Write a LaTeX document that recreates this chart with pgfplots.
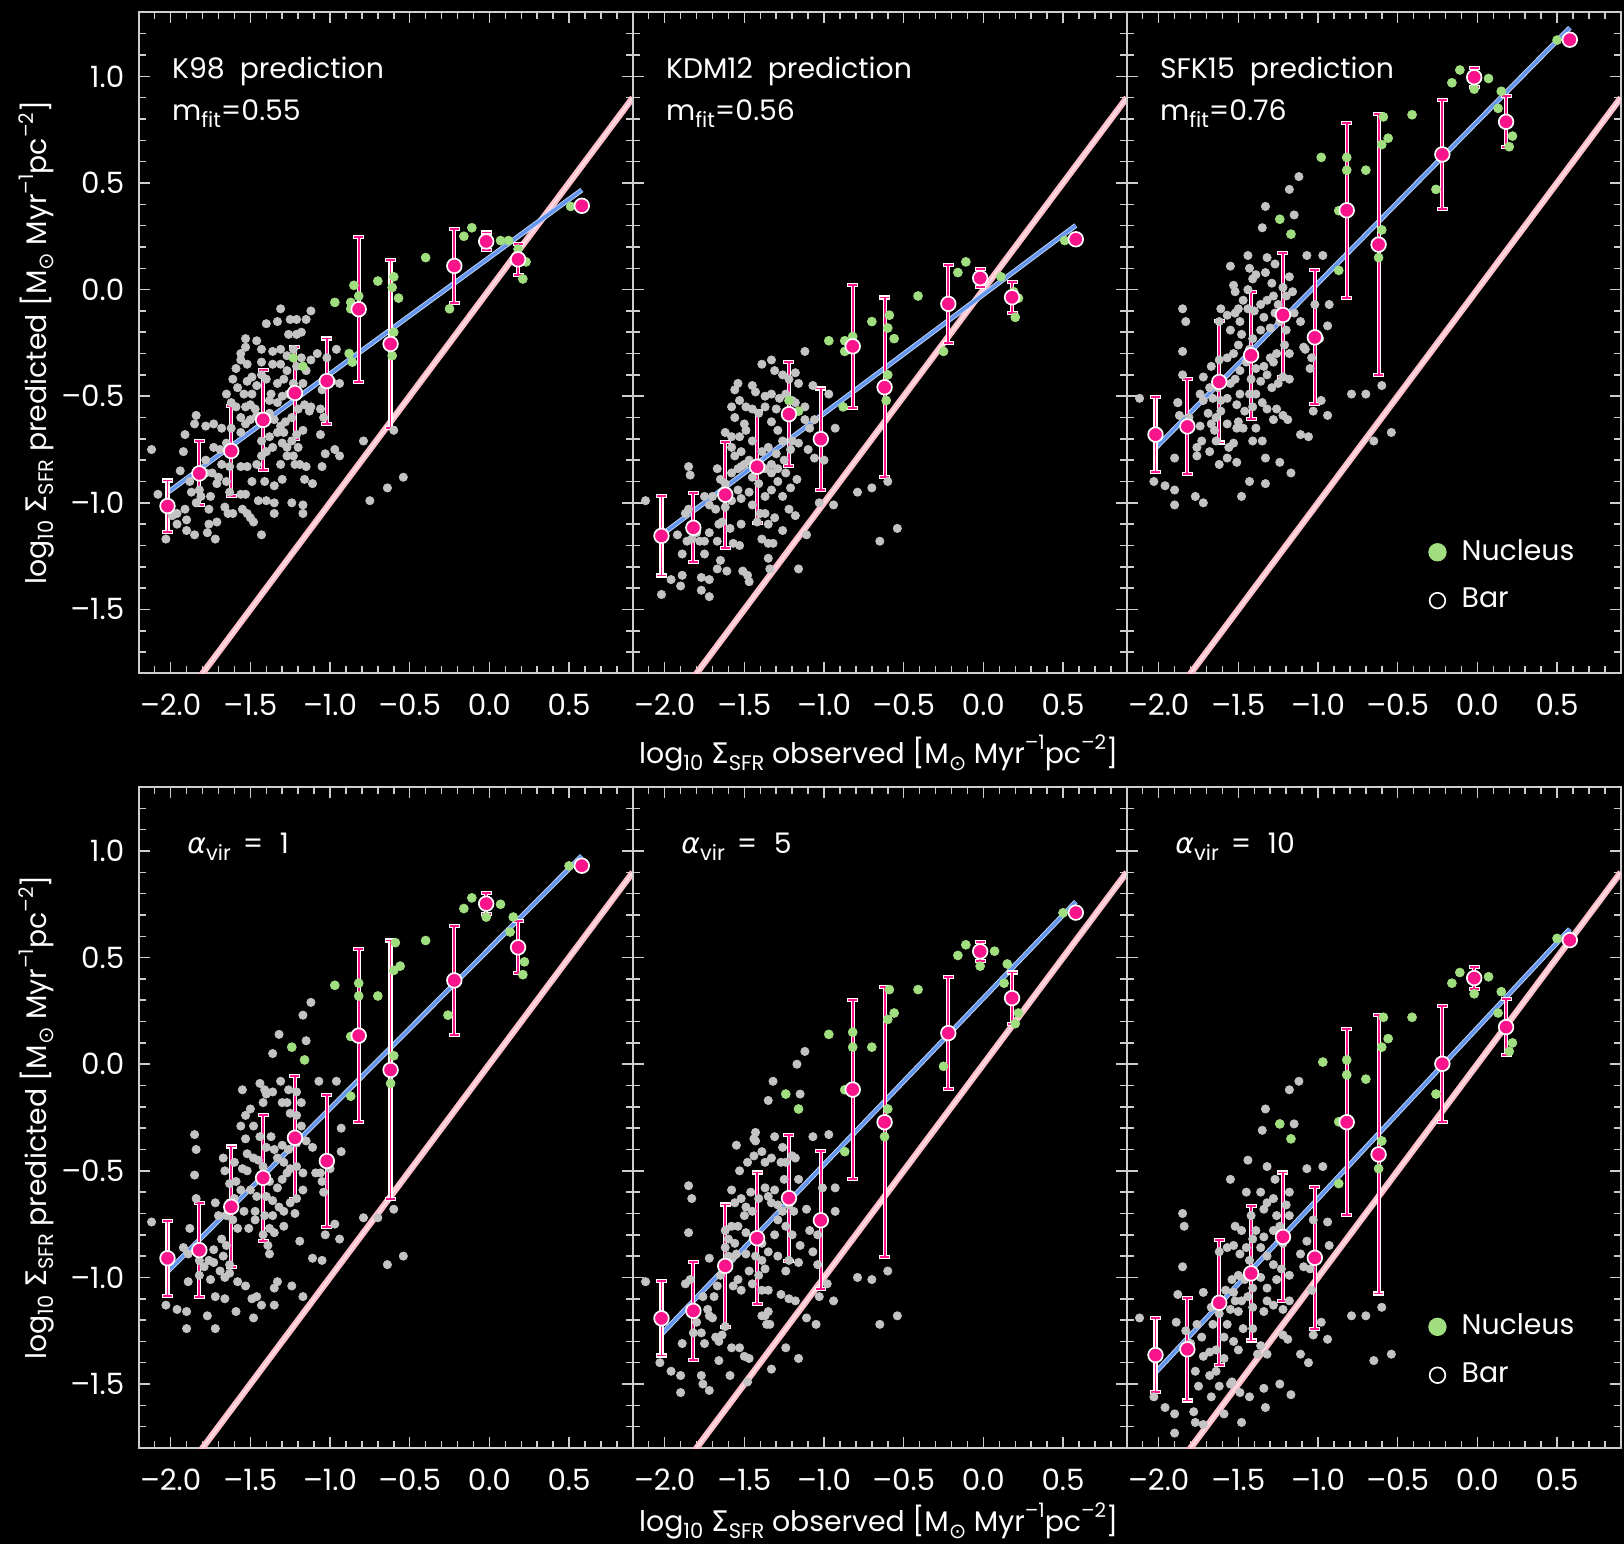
\documentclass[border=0pt]{standalone}
\usepackage{fontspec}
\setmainfont{Poppins}
\newfontfamily\djv{DejaVu Sans}
\usepackage{pgfplots}
\pgfplotsset{compat=1.18}
\definecolor{ptgray}{RGB}{195,195,195}
\definecolor{nucgreen}{RGB}{160,222,128}
\definecolor{dpink}{RGB}{250,20,140}
\definecolor{fitblue}{RGB}{100,149,237}
\definecolor{onepink}{RGB}{255,192,203}
\definecolor{axgray}{RGB}{205,205,205}
\newcommand\tfont{\fontsize{8.5pt}{10pt}\selectfont}
\newcommand\tickfont{\fontsize{8.8pt}{10pt}\selectfont}
\newcommand\sub[1]{\raisebox{-0.45ex}{\fontsize{6.3pt}{6.5pt}\selectfont #1}}
\newcommand\sups[1]{\raisebox{0.9ex}{\fontsize{6pt}{6.2pt}\selectfont #1}}
\pgfplotsset{
 panel/.style={
  scale only axis, width=148.2pt, height=198.3pt,
  xmin=-2.2, xmax=0.9, ymin=-1.8, ymax=1.3,
  axis line style={draw=axgray, line width=0.6pt},
  tick style={draw=axgray, line width=0.45pt},
  tick align=inside,
  major tick length=3.3pt, minor tick length=2.1pt,
  xtick={-2,-1.5,-1,-0.5,0,0.5},
  ytick={-1.5,-1,-0.5,0,0.5,1},
  minor xtick={-2.1,-1.9,-1.8,-1.7,-1.6,-1.4,-1.3,-1.2,-1.1,-0.9,-0.8,-0.7,-0.6,-0.4,-0.3,-0.2,-0.1,0.1,0.2,0.3,0.4,0.6,0.7,0.8},
  minor ytick={-1.7,-1.6,-1.4,-1.3,-1.2,-1.1,-0.9,-0.8,-0.7,-0.6,-0.4,-0.3,-0.2,-0.1,0.1,0.2,0.3,0.4,0.6,0.7,0.8,0.9,1.1,1.2},
  xticklabels={–2.0,–1.5,–1.0,–0.5,0.0,0.5},
  xticklabel style={font=\tickfont, text=white, yshift=-2.7pt},
  yticklabel style={font=\tickfont, text=white, xshift=-0.85pt},
  yticklabels={,,,,,},
 },
 leftpanel/.style={yticklabels={–1.5,–1.0,–0.5,0.0,0.5,1.0}},
 grayp/.style={only marks, mark=*, mark size=1.25pt, mark options={draw=ptgray, fill=ptgray, line width=0.2pt}},
 greenp/.style={only marks, mark=*, mark size=1.35pt, mark options={draw=nucgreen, fill=nucgreen, line width=0.2pt}},
 onelinebg/.style={no marks, draw=onepink, line width=1.9pt},
 onelinefg/.style={no marks, draw=white!55!onepink, line width=0.45pt},
 fitbg/.style={no marks, draw=white!60!fitblue, line width=1.5pt},
 fitfg/.style={no marks, draw=fitblue, line width=0.95pt},
 ebw/.style={only marks, mark=none, error bars/.cd, y dir=both, y explicit, error mark=|,
   error bar style={draw=white, line width=1.25pt},
   error mark options={draw=white, line width=1.25pt, mark size=1.65pt}},
 ebp/.style={only marks, mark=none, error bars/.cd, y dir=both, y explicit, error mark=|,
   error bar style={draw=dpink, line width=0.55pt},
   error mark options={draw=dpink, line width=0.55pt, mark size=1.35pt}},
 pinkm/.style={only marks, mark=*, mark size=2.2pt, mark options={fill=dpink, draw=white, line width=0.5pt}},
 leg/.style={legend style={at={(rel axis cs:0.609,0.214)}, anchor=north west, draw=none, fill=none,
   text=white, font=\tfont, inner sep=0pt, row sep=2.9pt,
   /tikz/every odd column/.append style={column sep=2.5pt}},
   legend cell align=left},
}
\newcommand\annot[2]{%
 \node[anchor=base west, text=white, font=\tfont, inner sep=0pt] at (rel axis cs:0.066,0.9007) {#1};
 \node[anchor=base west, text=white, font=\tfont, inner sep=0pt] at (rel axis cs:0.066,0.8364) {#2};}
\newcommand\annotb[1]{%
 \node[anchor=base west, text=white, font=\tfont, inner sep=0pt] at (rel axis cs:0.097,0.900) {#1};}
\newcommand\legendentries{%
 \addlegendimage{legend image code/.code={\fill[nucgreen] (0pt,0pt) circle (2.55pt);}}
 \addlegendentry{Nucleus}
 \addlegendimage{legend image code/.code={\draw[white, line width=0.5pt] (0pt,0pt) circle (2.35pt);}}
 \addlegendentry{Bar}}
\newcommand\oneone{%
 \addplot[onelinebg] coordinates {(-2.2,-2.2) (0.9,0.9)};
 \addplot[onelinefg] coordinates {(-2.2,-2.2) (0.9,0.9)};}
\begin{document}
\begin{tikzpicture}
\path[use as bounding box, fill=black] (0pt,0pt) rectangle (487.2pt,-463.2pt);

% ---------------- Panel 1: K98
\begin{axis}[panel, leftpanel, at={(41.64pt,-3.72pt)}, anchor=north west]
\addplot[grayp] coordinates {
(-0.79,-0.71)(-0.64,-0.93)(-0.75,-0.99)(-0.54,-0.88)(-0.60,-0.66)
(-2.12,-0.75)(-2.08,-0.96)(-2.03,-1.17)(-1.96,-1.10)(-1.90,-1.13)(-1.85,-1.15)(-1.77,-1.14)(-1.72,-1.17)(-1.90,-1.08)(-1.76,-1.10)(-1.71,-1.09)(-1.91,-1.03)(-1.96,-1.05)(-1.99,-1.06)(-1.84,-1.00)(-1.76,-1.03)
(-1.84,-0.59)(-1.85,-0.63)(-1.78,-0.64)(-1.73,-0.63)(-1.91,-0.68)(-1.92,-0.76)(-1.94,-0.85)(-1.88,-0.90)(-1.87,-0.95)(-1.81,-0.97)(-1.75,-0.97)(-1.82,-0.94)(-1.74,-0.86)(-1.68,-0.82)(-1.70,-0.88)(-1.65,-0.90)(-1.66,-1.02)(-1.64,-1.05)(-1.61,-1.05)(-1.55,-1.03)(-1.52,-1.05)(-1.50,-1.07)(-1.48,-1.09)(-1.43,-1.15)(-1.45,-0.99)(-1.56,-0.96)(-1.53,-0.96)(-1.63,-0.95)(-1.71,-0.91)(-1.78,-0.86)(-1.78,-0.80)(-1.73,-0.74)(-1.69,-0.75)(-1.65,-0.72)(-1.68,-0.65)(-1.62,-0.65)(-1.56,-0.67)(-1.53,-0.63)(-1.50,-0.61)(-1.46,-0.59)
(-1.65,-0.49)(-1.62,-0.53)(-1.59,-0.55)(-1.56,-0.60)(-1.53,-0.55)(-1.50,-0.54)(-1.47,-0.56)(-1.61,-0.42)(-1.58,-0.46)(-1.54,-0.49)(-1.52,-0.43)(-1.49,-0.49)(-1.46,-0.45)(-1.43,-0.40)(-1.59,-0.37)(-1.56,-0.33)(-1.52,-0.35)(-1.49,-0.41)(-1.43,-0.34)(-1.40,-0.42)(-1.37,-0.49)(-1.33,-0.44)(-1.29,-0.42)(-1.26,-0.49)(-1.23,-0.44)(-1.20,-0.49)(-1.17,-0.44)(-1.21,-0.36)(-1.18,-0.32)(-1.15,-0.38)(-1.12,-0.33)(-1.08,-0.30)(-1.02,-0.32)(-0.96,-0.28)(-0.94,-0.44)(-0.99,-0.43)(-1.05,-0.47)(-1.06,-0.56)(-1.04,-0.60)(-1.13,-0.57)(-1.17,-0.66)(-1.21,-0.68)(-1.27,-0.74)(-1.36,-0.74)(-1.40,-0.76)(-1.43,-0.78)(-1.46,-0.82)(-1.49,-0.90)(-1.52,-0.83)(-1.56,-0.83)(-1.63,-0.83)(-1.31,-0.82)(-1.27,-0.78)(-1.23,-0.78)(-1.22,-0.82)(-1.19,-0.82)(-1.15,-0.83)(-1.11,-0.91)(-1.16,-0.89)(-1.30,-0.89)(-1.35,-0.92)(-1.41,-0.90)(-1.40,-0.99)(-1.35,-1.00)(-1.24,-1.00)(-1.17,-1.01)(-1.17,-1.05)(-1.35,-1.05)(-1.06,-0.68)(-1.03,-0.77)(-0.97,-0.75)(-0.94,-0.78)(-1.05,-0.83)
(-1.53,-0.27)(-1.56,-0.30)(-1.53,-0.23)(-1.46,-0.24)(-1.43,-0.28)(-1.40,-0.16)(-1.33,-0.15)(-1.31,-0.09)(-1.25,-0.14)(-1.21,-0.14)(-1.15,-0.14)(-1.12,-0.10)(-1.18,-0.20)(-1.21,-0.21)(-1.26,-0.21)(-1.31,-0.28)(-1.36,-0.29)(-1.27,-0.31)(-1.23,-0.28)(-1.36,-0.35)(-1.31,-0.35)(-1.27,-0.38)(-1.41,-0.62)(-1.38,-0.58)(-1.35,-0.61)(-1.31,-0.64)(-1.28,-0.62)(-1.24,-0.60)(-1.20,-0.56)(-1.16,-0.54)(-1.12,-0.55)(-1.33,-0.53)(-1.30,-0.50)(-1.38,-0.52)(-1.43,-0.71)(-1.38,-0.69)(-1.30,-0.72)(-1.24,-0.71)(-1.20,-0.74)(-1.33,-0.67)(-1.29,-0.67)};
\addplot[greenp] coordinates {
(-0.11,0.29)(-0.16,0.25)(0.07,0.23)(0.12,0.23)(0.23,0.13)(0.21,0.05)(0.51,0.39)(-0.40,0.15)(-0.25,-0.09)(-0.70,0.04)(-0.60,0.06)(-0.57,-0.04)(-0.85,0.02)(-0.87,-0.06)(-0.87,-0.09)(-0.82,-0.03)(-0.97,-0.06)(-0.88,-0.30)(-0.86,-0.34)(-1.23,-0.32)(-1.17,-0.36)(-0.61,0.01)(-0.60,-0.20)(-0.61,-0.31)(0.18,0.19)};
\oneone
\addplot[fitbg] coordinates {(-2.02,-0.952) (0.58,0.467)};
\addplot[fitfg] coordinates {(-2.02,-0.952) (0.58,0.467)};
\addplot[ebw] coordinates {(-2.02,-1.015)+-(0,0.12) (-1.82,-0.862)+-(0,0.15) (-1.62,-0.757)+-(0,0.21) (-1.42,-0.611)+-(0,0.235) (-1.22,-0.485)+-(0,0.215) (-1.02,-0.429)+-(0,0.20) (-0.82,-0.092)+-(0,0.34) (-0.62,-0.255)+-(0,0.395) (-0.22,0.111)+-(0,0.174) (-0.02,0.226)+-(0,0.042) (0.18,0.142)+-(0,0.073)};
\addplot[ebp] coordinates {(-2.02,-1.015)+-(0,0.12) (-1.82,-0.862)+-(0,0.15) (-1.62,-0.757)+-(0,0.21) (-1.42,-0.611)+-(0,0.235) (-1.22,-0.485)+-(0,0.215) (-1.02,-0.429)+-(0,0.20) (-0.82,-0.092)+-(0,0.34) (-0.62,-0.255)+-(0,0.395) (-0.22,0.111)+-(0,0.174) (-0.02,0.226)+-(0,0.042) (0.18,0.142)+-(0,0.073)};
\addplot[pinkm] coordinates {(-2.02,-1.015) (-1.82,-0.862) (-1.62,-0.757) (-1.42,-0.611) (-1.22,-0.485) (-1.02,-0.429) (-0.82,-0.092) (-0.62,-0.255) (-0.22,0.111) (-0.02,0.226) (0.18,0.142) (0.58,0.393)};
\annot{K98\hspace{4.5pt}prediction}{m\sub{fit}=0.55}
\end{axis}

% ---------------- Panel 2: KDM12
\begin{axis}[panel, at={(189.84pt,-3.72pt)}, anchor=north west]
\addplot[grayp] coordinates {
(-0.79,-0.95)(-0.70,-0.93)(-0.60,-0.90)(-0.65,-1.18)(-0.54,-1.12)(-1.11,-1.15)(-1.16,-1.31)(-1.34,-1.31)(-0.94,-1.01)(-1.03,-1.00)
(-2.12,-0.99)(-2.02,-1.43)(-1.96,-1.36)(-1.90,-1.39)(-1.89,-1.34)(-1.77,-1.35)(-1.72,-1.36)(-1.72,-1.44)(-1.77,-1.41)(-1.65,-1.27)(-1.67,-1.31)(-1.61,-1.32)(-1.51,-1.32)(-1.47,-1.37)(-1.48,-1.34)(-1.35,-1.26)(-1.35,-1.19)(-1.39,-1.17)(-1.32,-1.19)(-1.35,-1.10)(-1.37,-1.05)(-1.52,-1.10)(-1.53,-1.20)(-1.57,-1.19)(-1.59,-1.12)(-1.64,-1.09)(-1.67,-1.18)(-1.72,-1.14)(-1.75,-1.18)(-1.78,-1.18)(-1.80,-1.14)(-1.83,-1.17)(-1.86,-1.18)(-1.92,-1.15)(-1.87,-1.05)(-1.85,-1.03)(-1.89,-1.24)(-1.75,-1.24)(-1.84,-0.87)(-1.85,-0.83)
(-1.75,-0.97)(-1.72,-1.01)(-1.70,-0.97)(-1.68,-1.03)(-1.66,-1.10)(-1.62,-1.02)(-1.58,-0.99)(-1.54,-0.94)(-1.52,-0.98)(-1.47,-0.95)(-1.45,-1.01)(-1.62,-0.67)(-1.58,-0.69)(-1.53,-0.69)(-1.58,-0.74)(-1.56,-0.78)(-1.52,-0.76)(-1.47,-0.80)(-1.43,-0.84)(-1.67,-0.84)(-1.65,-0.89)(-1.62,-0.91)(-1.58,-0.86)(-1.54,-0.84)(-1.50,-0.82)(-1.45,-0.88)(-1.41,-0.91)(-1.37,-0.97)(-1.33,-0.94)(-1.29,-0.90)(-1.26,-0.97)(-1.22,-1.03)(-1.18,-1.06)(-1.21,-0.93)(-1.17,-0.89)(-1.24,-0.86)(-1.29,-0.84)(-1.33,-0.82)(-1.35,-0.74)(-1.39,-0.76)(-1.45,-0.71)(-1.49,-0.66)(-1.50,-0.63)(-1.56,-0.60)(-1.58,-0.55)(-1.53,-0.52)(-1.49,-0.55)(-1.45,-0.56)(-1.41,-0.58)(-1.37,-0.55)(-1.33,-0.62)(-1.29,-0.66)(-1.26,-0.71)(-1.20,-0.71)(-1.16,-0.72)(-1.12,-0.61)(-1.09,-0.65)(-1.06,-0.61)(-1.10,-0.75)(-1.06,-0.79)(-1.00,-0.80)(-0.93,-0.65)(-0.97,-0.49)(-1.07,-0.45)
(-1.12,-0.29)(-1.18,-0.39)(-1.16,-0.44)(-1.22,-0.42)(-1.26,-0.40)(-1.31,-0.38)(-1.33,-0.33)(-1.39,-0.35)(-1.45,-0.45)(-1.54,-0.44)(-1.56,-0.47)(-1.43,-0.48)(-1.37,-0.50)(-1.33,-0.49)(-1.28,-0.51)(-1.24,-0.49)(-1.20,-0.52)(-1.18,-0.53)(-1.12,-0.55)(-1.30,-0.77)(-1.25,-0.80)(-1.33,-0.86)(-1.37,-0.84)(-1.40,-1.05)(-1.42,-1.09)(-1.31,-1.07)(-1.26,-1.13)(-1.21,-0.75)(-1.30,-0.56)(-1.52,-0.83)};
\addplot[greenp] coordinates {
(-0.11,0.13)(-0.16,0.08)(-0.41,-0.03)(0.11,0.06)(0.19,-0.01)(0.20,-0.13)(0.22,-0.04)(0.51,0.23)(-0.25,-0.29)(-0.70,-0.15)(-0.59,-0.12)(-0.60,-0.18)(-0.56,-0.23)(-0.97,-0.24)(-0.87,-0.24)(-0.87,-0.29)(-0.82,-0.22)(-0.84,-0.28)(-0.60,-0.40)(-0.61,-0.52)(-0.88,-0.55)(-1.22,-0.52)(-1.16,-0.57)};
\oneone
\addplot[fitbg] coordinates {(-2.02,-1.15) (0.58,0.301)};
\addplot[fitfg] coordinates {(-2.02,-1.15) (0.58,0.301)};
\addplot[ebw] coordinates {(-2.02,-1.155)+-(0,0.186) (-1.82,-1.117)+-(0,0.162) (-1.62,-0.962)+-(0,0.248) (-1.42,-0.831)+-(0,0.263) (-1.22,-0.584)+-(0,0.243) (-1.02,-0.701)+-(0,0.237) (-0.82,-0.266)+-(0,0.288) (-0.62,-0.458)+-(0,0.421) (-0.22,-0.067)+-(0,0.183) (-0.02,0.054)+-(0,0.042) (0.18,-0.036)+-(0,0.073)};
\addplot[ebp] coordinates {(-2.02,-1.155)+-(0,0.186) (-1.82,-1.117)+-(0,0.162) (-1.62,-0.962)+-(0,0.248) (-1.42,-0.831)+-(0,0.263) (-1.22,-0.584)+-(0,0.243) (-1.02,-0.701)+-(0,0.237) (-0.82,-0.266)+-(0,0.288) (-0.62,-0.458)+-(0,0.421) (-0.22,-0.067)+-(0,0.183) (-0.02,0.054)+-(0,0.042) (0.18,-0.036)+-(0,0.073)};
\addplot[pinkm] coordinates {(-2.02,-1.155) (-1.82,-1.117) (-1.62,-0.962) (-1.42,-0.831) (-1.22,-0.584) (-1.02,-0.701) (-0.82,-0.266) (-0.62,-0.458) (-0.22,-0.067) (-0.02,0.054) (0.18,-0.036) (0.58,0.236)};
\annot{KDM12\hspace{4.5pt}prediction}{m\sub{fit}=0.56}
\end{axis}

% ---------------- Panel 3: SFK15
\begin{axis}[panel, leg, at={(338.04pt,-3.72pt)}, anchor=north west]
\legendentries
\addplot[grayp] coordinates {
(-0.79,-0.49)(-0.70,-0.49)(-0.60,-0.45)(-0.65,-0.71)(-0.54,-0.67)(-1.11,-0.68)(-1.06,-0.69)(-1.17,-0.86)(-0.94,-0.59)(-0.98,-0.52)(-1.03,-0.57)(-1.33,-0.79)(-1.24,-0.81)(-1.43,-0.90)(-1.33,-0.91)(-1.48,-0.97)(-1.72,-1.00)(-1.77,-0.97)(-1.90,-1.01)(-1.90,-0.94)(-1.96,-0.92)(-2.03,-0.90)(-2.12,-0.51)
(-1.12,0.53)(-1.18,0.47)(-1.33,0.39)(-1.15,0.35)(-1.35,0.29)(-1.44,0.16)(-1.55,0.11)(-1.32,0.15)(-1.27,0.12)(-1.07,0.16)(-0.97,0.16)(-1.85,-0.09)(-1.83,-0.15)(-1.85,-0.29)(-1.85,-0.40)(-1.72,-0.41)(-1.88,-0.53)(-1.90,-0.79)(-1.76,-0.78)(-1.73,-0.71)(-1.76,-0.74)(-1.80,-0.63)(-1.74,-0.64)(-1.67,-0.63)(-1.69,-0.58)(-1.66,-0.51)(-1.63,-0.46)(-1.67,-0.36)(-1.62,-0.33)(-1.57,-0.32)(-1.53,-0.30)(-1.50,-0.26)(-1.48,-0.21)(-1.55,-0.19)(-1.62,-0.15)(-1.57,-0.12)(-1.61,-0.09)(-1.52,-0.11)(-1.49,-0.15)(-1.50,-0.09)(-1.44,-0.09)(-1.40,-0.10)(-1.36,-0.07)(-1.32,-0.05)(-1.28,-0.03)(-1.25,-0.07)(-1.20,-0.03)(-1.15,-0.11)(-1.11,-0.15)(-1.16,-0.01)(-1.18,0.06)(-1.22,0.01)(-1.29,0.03)(-1.33,0.08)(-1.41,0.05)(-1.43,0.10)(-1.39,0.07)(-1.53,0.02)(-1.52,-0.01)(-1.47,-0.05)(-1.44,0.00)
(-1.24,-0.15)(-1.27,-0.11)(-1.30,-0.18)(-1.34,-0.13)(-1.36,-0.19)(-1.41,-0.23)(-1.43,-0.28)(-1.45,-0.34)(-1.49,-0.38)(-1.52,-0.42)(-1.55,-0.44)(-1.57,-0.51)(-1.61,-0.52)(-1.64,-0.60)(-1.65,-0.66)(-1.64,-0.71)(-1.68,-0.76)(-1.62,-0.82)(-1.57,-0.79)(-1.51,-0.81)(-1.56,-0.74)(-1.53,-0.72)(-1.51,-0.65)(-1.50,-0.62)(-1.46,-0.57)(-1.41,-0.55)(-1.39,-0.49)(-1.35,-0.53)(-1.32,-0.56)(-1.29,-0.46)(-1.25,-0.44)(-1.22,-0.41)(-1.18,-0.42)(-1.18,-0.30)(-1.21,-0.26)(-1.26,-0.30)(-1.30,-0.32)(-1.34,-0.36)(-1.39,-0.37)(-1.36,-0.43)(-1.32,-0.40)(-1.28,-0.34)(-1.20,-0.19)(-1.08,-0.28)(-1.04,-0.32)(-1.05,-0.37)(-1.09,-0.27)(-1.02,-0.07)(-0.94,-0.17)(-0.93,-0.07)(-0.99,-0.23)(-1.26,-0.56)(-1.28,-0.61)(-1.22,-0.59)(-1.19,-0.61)(-1.39,-0.65)(-1.35,-0.71)(-1.41,-0.71)(-1.47,-0.65)(-1.57,-0.63)(-1.61,-0.57)(-1.72,-0.52)(-1.74,-0.49)(-1.81,-0.60)(-1.87,-0.59)(-1.88,-0.53)(-1.68,-0.46)(-1.43,-0.49)(-1.49,-0.49)(-1.51,-0.54)(-1.42,-0.42)};
\addplot[greenp] coordinates {
(-0.11,1.03)(-0.16,0.97)(0.07,0.99)(-0.02,0.94)(0.15,0.93)(0.13,0.85)(0.22,0.72)(0.20,0.67)(0.50,1.17)(-0.41,0.82)(-0.59,0.81)(-0.56,0.71)(-0.60,0.68)(-0.98,0.62)(-0.82,0.62)(-0.82,0.56)(-0.70,0.56)(-0.87,0.37)(-0.26,0.47)(-1.24,0.33)(-1.17,0.26)(-0.60,0.28)(-0.62,0.15)(-0.87,0.09)};
\oneone
\addplot[fitbg] coordinates {(-2.02,-0.743) (0.58,1.228)};
\addplot[fitfg] coordinates {(-2.02,-0.743) (0.58,1.228)};
\addplot[ebw] coordinates {(-2.02,-0.680)+-(0,0.175) (-1.82,-0.642)+-(0,0.222) (-1.62,-0.433)+-(0,0.284) (-1.42,-0.308)+-(0,0.298) (-1.22,-0.119)+-(0,0.29) (-1.02,-0.224)+-(0,0.314) (-0.82,0.372)+-(0,0.41) (-0.62,0.211)+-(0,0.612) (-0.22,0.634)+-(0,0.256) (-0.02,0.996)+-(0,0.044) (0.18,0.787)+-(0,0.12)};
\addplot[ebp] coordinates {(-2.02,-0.680)+-(0,0.175) (-1.82,-0.642)+-(0,0.222) (-1.62,-0.433)+-(0,0.284) (-1.42,-0.308)+-(0,0.298) (-1.22,-0.119)+-(0,0.29) (-1.02,-0.224)+-(0,0.314) (-0.82,0.372)+-(0,0.41) (-0.62,0.211)+-(0,0.612) (-0.22,0.634)+-(0,0.256) (-0.02,0.996)+-(0,0.044) (0.18,0.787)+-(0,0.12)};
\addplot[pinkm] coordinates {(-2.02,-0.680) (-1.82,-0.642) (-1.62,-0.433) (-1.42,-0.308) (-1.22,-0.119) (-1.02,-0.224) (-0.82,0.372) (-0.62,0.211) (-0.22,0.634) (-0.02,0.996) (0.18,0.787) (0.58,1.172)};
\annot{SFK15\hspace{4.5pt}prediction}{m\sub{fit}=0.76}
\end{axis}

% ---------------- Panel 4: alpha_vir = 1
\begin{axis}[panel, leftpanel, at={(41.64pt,-236.1pt)}, anchor=north west]
\addplot[grayp] coordinates {
(-0.79,-0.72)(-0.70,-0.72)(-0.60,-0.68)(-0.64,-0.94)(-0.54,-0.90)(-0.97,-0.75)(-1.03,-0.80)(-0.94,-0.82)(-1.11,-0.91)(-1.05,-0.92)(-1.17,-1.09)(-1.24,-1.04)(-1.33,-1.02)(-1.35,-1.05)(-1.43,-1.13)(-1.48,-1.19)(-1.35,-1.13)(-1.49,-1.10)(-1.46,-1.09)(-1.59,-1.16)(-1.66,-1.10)(-1.72,-1.09)(-1.72,-1.24)(-1.77,-1.18)(-1.90,-1.24)(-1.90,-1.16)(-1.96,-1.15)(-2.03,-1.13)(-2.12,-0.74)(-1.89,-1.02)(-1.82,-0.99)
(-1.12,0.29)(-1.17,0.23)(-1.32,0.14)(-1.36,0.05)(-1.15,0.11)(-1.55,-0.12)(-1.44,-0.09)(-1.41,-0.12)(-1.31,-0.08)(-1.26,-0.12)(-1.21,-0.13)(-1.07,-0.08)(-0.96,-0.08)(-1.85,-0.33)(-1.84,-0.40)(-1.85,-0.52)(-1.84,-0.63)(-1.72,-0.65)(-1.88,-0.77)(-1.92,-0.86)(-1.89,-0.89)(-1.82,-0.92)(-1.76,-0.92)(-1.73,-0.87)(-1.68,-0.82)(-1.65,-0.85)(-1.67,-0.90)(-1.63,-0.98)(-1.66,-1.00)(-1.58,-1.02)(-1.53,-1.04)(-1.63,-0.94)(-1.69,-0.97)(-1.73,-0.93)(-1.75,-1.01)(-1.79,-0.95)
(-1.70,-0.71)(-1.65,-0.71)(-1.61,-0.73)(-1.58,-0.77)(-1.51,-0.77)(-1.47,-0.69)(-1.47,-0.73)(-1.41,-0.71)(-1.38,-0.77)(-1.35,-0.79)(-1.36,-0.71)(-1.29,-0.69)(-1.25,-0.65)(-1.21,-0.63)(-1.17,-0.59)(-1.22,-0.70)(-1.32,-0.67)(-1.36,-0.64)(-1.40,-0.62)(-1.46,-0.62)(-1.50,-0.59)(-1.56,-0.59)(-1.59,-0.55)(-1.63,-0.56)(-1.66,-0.50)(-1.67,-0.44)(-1.60,-0.46)(-1.55,-0.49)(-1.52,-0.42)(-1.48,-0.44)(-1.53,-0.35)(-1.56,-0.29)(-1.53,-0.24)(-1.50,-0.21)(-1.48,-0.29)(-1.44,-0.34)(-1.42,-0.18)(-1.40,-0.14)(-1.36,-0.13)(-1.30,-0.18)(-1.27,-0.18)(-1.25,-0.23)(-1.21,-0.24)(-1.18,-0.18)(-1.18,-0.29)(-1.15,-0.36)(-1.11,-0.39)(-1.21,-0.37)(-1.26,-0.40)(-1.30,-0.38)(-1.35,-0.40)(-1.37,-0.34)(-1.40,-0.39)(-1.33,-0.44)(-1.29,-0.46)(-1.25,-0.49)(-1.21,-0.48)(-1.17,-0.51)(-1.09,-0.51)(-1.06,-0.51)(-1.04,-0.60)(-1.05,-0.55)(-1.00,-0.49)(-0.93,-0.30)(-0.93,-0.41)(-1.27,-0.51)(-1.30,-0.54)(-1.33,-0.58)(-1.38,-0.55)(-1.42,-0.48)(-1.45,-0.45)(-1.52,-0.50)(-1.63,-0.65)(-1.60,-0.63)(-1.54,-0.69)(-1.42,-0.80)(-1.39,-0.85)(-1.38,-0.89)(-1.29,-0.76)(-1.19,-0.83)};
\addplot[greenp] coordinates {
(-0.11,0.78)(-0.16,0.73)(0.07,0.75)(-0.02,0.69)(0.15,0.69)(0.13,0.62)(0.22,0.48)(0.21,0.42)(0.50,0.93)(-0.40,0.58)(-0.59,0.57)(-0.56,0.46)(-0.60,0.44)(-0.97,0.37)(-0.82,0.38)(-0.82,0.32)(-0.70,0.32)(-0.87,0.13)(-0.26,0.23)(-1.24,0.08)(-1.16,0.02)(-0.60,0.04)(-0.62,-0.09)(-0.87,-0.15)};
\oneone
\addplot[fitbg] coordinates {(-2.02,-0.973) (0.58,0.977)};
\addplot[fitfg] coordinates {(-2.02,-0.973) (0.58,0.977)};
\addplot[ebw] coordinates {(-2.02,-0.910)+-(0,0.176) (-1.82,-0.872)+-(0,0.22) (-1.62,-0.669)+-(0,0.283) (-1.42,-0.533)+-(0,0.296) (-1.22,-0.345)+-(0,0.288) (-1.02,-0.454)+-(0,0.311) (-0.82,0.134)+-(0,0.406) (-0.62,-0.027)+-(0,0.607) (-0.22,0.393)+-(0,0.255) (-0.02,0.753)+-(0,0.048) (0.18,0.548)+-(0,0.122)};
\addplot[ebp] coordinates {(-2.02,-0.910)+-(0,0.176) (-1.82,-0.872)+-(0,0.22) (-1.62,-0.669)+-(0,0.283) (-1.42,-0.533)+-(0,0.296) (-1.22,-0.345)+-(0,0.288) (-1.02,-0.454)+-(0,0.311) (-0.82,0.134)+-(0,0.406) (-0.62,-0.027)+-(0,0.607) (-0.22,0.393)+-(0,0.255) (-0.02,0.753)+-(0,0.048) (0.18,0.548)+-(0,0.122)};
\addplot[pinkm] coordinates {(-2.02,-0.910) (-1.82,-0.872) (-1.62,-0.669) (-1.42,-0.533) (-1.22,-0.345) (-1.02,-0.454) (-0.82,0.134) (-0.62,-0.027) (-0.22,0.393) (-0.02,0.753) (0.18,0.548) (0.58,0.931)};
\annotb{{\djv\itshape α}\sub{vir}\hspace{3.6pt}=\hspace{5pt}1}
\end{axis}

% ---------------- Panel 5: alpha_vir = 5
\begin{axis}[panel, at={(189.84pt,-236.1pt)}, anchor=north west]
\addplot[grayp] coordinates {
(-0.79,-1.00)(-0.70,-1.01)(-0.60,-0.97)(-0.65,-1.22)(-0.54,-1.18)(-1.11,-1.19)(-1.05,-1.22)(-1.16,-1.38)(-1.24,-1.33)(-1.33,-1.43)(-0.94,-1.11)(-0.98,-1.03)(-1.03,-1.09)(-1.39,-1.18)(-1.35,-1.16)(-1.48,-1.49)(-1.34,-1.22)(-1.47,-1.38)(-1.50,-1.37)(-1.58,-1.33)(-1.53,-1.33)(-1.59,-1.46)(-1.66,-1.39)(-1.72,-1.53)(-1.77,-1.46)(-1.76,-1.50)(-1.90,-1.46)(-1.90,-1.54)(-1.96,-1.44)(-2.03,-1.40)(-2.12,-1.02)(-1.89,-1.31)(-1.82,-1.26)
(-1.12,0.06)(-1.17,0.00)(-1.32,-0.08)(-1.35,-0.17)(-1.15,-0.14)(-1.55,-0.38)(-1.44,-0.35)(-1.43,-0.32)(-1.31,-0.34)(-1.26,-0.39)(-1.07,-0.34)(-0.97,-0.33)(-1.85,-0.57)(-1.83,-0.63)(-1.85,-0.79)(-1.84,-1.01)(-1.72,-0.91)(-1.87,-1.03)(-1.80,-1.21)(-1.76,-1.09)(-1.73,-1.15)(-1.77,-1.26)(-1.69,-1.09)(-1.67,-1.04)(-1.65,-0.99)(-1.62,-0.94)(-1.58,-0.91)(-1.57,-1.04)(-1.54,-1.01)(-1.52,-1.06)(-1.72,-1.18)(-1.68,-1.28)(-1.64,-1.27)(-1.62,-1.23)(-1.70,-1.19)(-1.75,-1.31)(-1.66,-1.30)
(-1.62,-0.78)(-1.58,-0.76)(-1.54,-0.76)(-1.50,-0.71)(-1.45,-0.69)(-1.49,-0.67)(-1.52,-0.63)(-1.56,-0.65)(-1.58,-0.59)(-1.53,-0.50)(-1.48,-0.46)(-1.44,-0.43)(-1.43,-0.36)(-1.39,-0.41)(-1.37,-0.46)(-1.33,-0.44)(-1.27,-0.46)(-1.24,-0.46)(-1.20,-0.43)(-1.18,-0.44)(-1.16,-0.54)(-1.25,-0.54)(-1.31,-0.59)(-1.35,-0.62)(-1.41,-0.63)(-1.46,-0.60)(-1.37,-0.58)(-1.33,-0.65)(-1.29,-0.66)(-1.22,-0.66)(-1.26,-0.69)(-1.19,-0.69)(-1.20,-0.80)(-1.24,-0.76)(-1.29,-0.73)(-1.31,-0.80)(-1.39,-0.84)(-1.43,-0.80)(-1.49,-0.79)(-1.56,-0.84)(-1.60,-0.82)(-1.62,-0.86)(-1.60,-0.90)(-1.55,-0.89)(-1.49,-0.89)(-1.43,-0.90)(-1.39,-0.92)(-1.35,-0.88)(-1.29,-0.90)(-1.22,-0.92)(-1.16,-0.93)(-1.24,-0.97)(-1.37,-0.96)(-1.41,-0.99)(-1.39,-1.06)(-1.35,-1.06)(-1.27,-1.08)(-1.22,-1.10)(-1.18,-1.11)(-1.15,-0.85)(-1.11,-0.68)(-1.09,-0.78)(-1.04,-0.80)(-1.07,-0.88)(-1.04,-0.94)(-1.01,-0.58)(-0.93,-0.58)(-0.93,-0.69)(-1.45,-1.03)(-1.47,-0.97)(-1.37,-1.18)(-1.36,-1.22)};
\addplot[greenp] coordinates {
(-0.11,0.56)(-0.16,0.51)(0.07,0.53)(-0.02,0.46)(0.15,0.47)(0.13,0.38)(0.22,0.24)(0.20,0.19)(0.50,0.71)(-0.41,0.35)(-0.59,0.35)(-0.56,0.24)(-0.60,0.21)(-0.97,0.14)(-0.82,0.15)(-0.82,0.08)(-0.70,0.08)(-0.87,-0.12)(-0.25,-0.01)(-1.24,-0.14)(-1.16,-0.21)(-0.60,-0.21)(-0.62,-0.34)(-0.87,-0.41)};
\oneone
\addplot[fitbg] coordinates {(-2.02,-1.266) (0.58,0.762)};
\addplot[fitfg] coordinates {(-2.02,-1.266) (0.58,0.762)};
\addplot[ebw] coordinates {(-2.02,-1.192)+-(0,0.174) (-1.82,-1.157)+-(0,0.23) (-1.62,-0.946)+-(0,0.288) (-1.42,-0.816)+-(0,0.308) (-1.22,-0.628)+-(0,0.296) (-1.02,-0.732)+-(0,0.324) (-0.82,-0.119)+-(0,0.421) (-0.62,-0.272)+-(0,0.633) (-0.22,0.146)+-(0,0.262) (-0.02,0.529)+-(0,0.046) (0.18,0.310)+-(0,0.12)};
\addplot[ebp] coordinates {(-2.02,-1.192)+-(0,0.174) (-1.82,-1.157)+-(0,0.23) (-1.62,-0.946)+-(0,0.288) (-1.42,-0.816)+-(0,0.308) (-1.22,-0.628)+-(0,0.296) (-1.02,-0.732)+-(0,0.324) (-0.82,-0.119)+-(0,0.421) (-0.62,-0.272)+-(0,0.633) (-0.22,0.146)+-(0,0.262) (-0.02,0.529)+-(0,0.046) (0.18,0.310)+-(0,0.12)};
\addplot[pinkm] coordinates {(-2.02,-1.192) (-1.82,-1.157) (-1.62,-0.946) (-1.42,-0.816) (-1.22,-0.628) (-1.02,-0.732) (-0.82,-0.119) (-0.62,-0.272) (-0.22,0.146) (-0.02,0.529) (0.18,0.310) (0.58,0.711)};
\annotb{{\djv\itshape α}\sub{vir}\hspace{3.6pt}=\hspace{5pt}5}
\end{axis}

% ---------------- Panel 6: alpha_vir = 10
\begin{axis}[panel, leg, at={(338.04pt,-236.1pt)}, anchor=north west]
\legendentries
\addplot[grayp] coordinates {
(-0.79,-1.18)(-0.70,-1.18)(-0.60,-1.14)(-0.65,-1.39)(-0.54,-1.36)(-1.11,-1.36)(-1.06,-1.40)(-1.17,-1.55)(-1.24,-1.50)(-1.33,-1.61)(-0.94,-1.29)(-0.98,-1.21)(-1.03,-1.27)(-1.34,-1.52)(-1.48,-1.68)(-1.59,-1.64)(-1.49,-1.54)(-1.43,-1.56)(-1.54,-1.49)(-1.62,-1.51)(-1.67,-1.56)(-1.78,-1.63)(-1.90,-1.64)(-1.90,-1.73)(-1.96,-1.61)(-2.03,-1.56)(-2.12,-1.19)(-1.77,-1.68)(-1.72,-1.69)
(-1.12,-0.08)(-1.18,-0.12)(-1.33,-0.21)(-1.15,-0.28)(-1.35,-0.31)(-1.44,-0.45)(-1.55,-0.54)(-1.32,-0.48)(-1.27,-0.54)(-1.07,-0.49)(-0.97,-0.48)(-1.85,-0.70)(-1.84,-0.76)(-1.85,-0.95)(-1.72,-1.07)(-1.88,-1.08)(-1.89,-1.21)(-1.80,-1.31)(-1.76,-1.22)(-1.73,-1.28)(-1.77,-1.44)(-1.72,-1.37)(-1.83,-1.25)(-1.68,-1.35)(-1.64,-1.34)(-1.59,-1.28)(-1.66,-1.22)(-1.67,-1.14)(-1.62,-1.11)(-1.58,-1.06)(-1.52,-1.11)(-1.50,-1.16)(-1.64,-1.44)(-1.59,-1.38)(-1.55,-1.50)(-1.68,-1.46)(-1.75,-1.51)(-1.57,-1.22)(-1.53,-1.30)(-1.50,-1.34)
(-1.62,-0.88)(-1.57,-0.86)(-1.53,-0.85)(-1.49,-0.89)(-1.45,-0.86)(-1.50,-0.99)(-1.54,-1.01)(-1.46,-1.01)(-1.43,-0.92)(-1.41,-0.82)(-1.39,-0.78)(-1.42,-0.71)(-1.34,-0.68)(-1.32,-0.65)(-1.28,-0.63)(-1.36,-0.60)(-1.26,-0.71)(-1.20,-0.66)(-1.18,-0.71)(-1.18,-0.60)(-1.22,-0.84)(-1.24,-0.76)(-1.28,-0.78)(-1.34,-0.81)(-1.36,-0.86)(-1.32,-0.90)(-1.28,-0.94)(-1.23,-0.96)(-1.18,-0.99)(-1.26,-1.01)(-1.32,-1.05)(-1.36,-1.00)(-1.41,-1.05)(-1.44,-1.09)(-1.41,-1.14)(-1.34,-1.16)(-1.32,-1.11)(-1.28,-1.13)(-1.22,-1.15)(-1.18,-1.11)(-1.47,-1.24)(-1.41,-1.24)(-1.36,-1.32)(-1.38,-1.36)(-1.32,-1.36)(-1.22,-1.27)(-1.19,-1.29)(-1.11,-0.89)(-1.07,-0.83)(-1.09,-0.95)(-1.05,-0.96)(-1.04,-1.06)(-1.03,-0.73)(-0.94,-0.74)(-0.93,-0.85)(-1.48,-1.11)(-1.53,-1.07)(-1.55,-1.15)(-1.62,-1.17)(-1.48,-0.78)(-1.45,-0.60)(-1.52,-0.76)};
\addplot[greenp] coordinates {
(-0.11,0.43)(-0.16,0.38)(0.07,0.41)(-0.02,0.33)(0.15,0.34)(0.13,0.24)(0.22,0.10)(0.20,0.06)(0.50,0.59)(-0.41,0.22)(-0.59,0.22)(-0.56,0.12)(-0.60,0.08)(-0.97,0.01)(-0.82,0.02)(-0.82,-0.05)(-0.70,-0.07)(-0.87,-0.27)(-0.26,-0.14)(-1.24,-0.28)(-1.17,-0.35)(-0.60,-0.36)(-0.62,-0.49)(-0.87,-0.56)};
\oneone
\addplot[fitbg] coordinates {(-2.02,-1.446) (0.58,0.634)};
\addplot[fitfg] coordinates {(-2.02,-1.446) (0.58,0.634)};
\addplot[ebw] coordinates {(-2.02,-1.364)+-(0,0.174) (-1.82,-1.337)+-(0,0.24) (-1.62,-1.119)+-(0,0.293) (-1.42,-0.981)+-(0,0.315) (-1.22,-0.810)+-(0,0.302) (-1.02,-0.908)+-(0,0.332) (-0.82,-0.272)+-(0,0.436) (-0.62,-0.423)+-(0,0.652) (-0.22,0.002)+-(0,0.272) (-0.02,0.404)+-(0,0.052) (0.18,0.174)+-(0,0.13)};
\addplot[ebp] coordinates {(-2.02,-1.364)+-(0,0.174) (-1.82,-1.337)+-(0,0.24) (-1.62,-1.119)+-(0,0.293) (-1.42,-0.981)+-(0,0.315) (-1.22,-0.810)+-(0,0.302) (-1.02,-0.908)+-(0,0.332) (-0.82,-0.272)+-(0,0.436) (-0.62,-0.423)+-(0,0.652) (-0.22,0.002)+-(0,0.272) (-0.02,0.404)+-(0,0.052) (0.18,0.174)+-(0,0.13)};
\addplot[pinkm] coordinates {(-2.02,-1.364) (-1.82,-1.337) (-1.62,-1.119) (-1.42,-0.981) (-1.22,-0.810) (-1.02,-0.908) (-0.82,-0.272) (-0.62,-0.423) (-0.22,0.002) (-0.02,0.404) (0.18,0.174) (0.58,0.582)};
\annotb{{\djv\itshape α}\sub{vir}\hspace{3.6pt}=\hspace{5pt}10}
\end{axis}

% ---------------- axis labels
\node[rotate=90, anchor=base, text=white, font=\tfont, inner sep=0pt] at (14.1pt,-102.84pt) {log\sub{10} {\djv Σ}\sub{SFR} predicted [M\sub{\djv ⊙} Myr\sups{–1}pc\sups{–2}]};
\node[rotate=90, anchor=base, text=white, font=\tfont, inner sep=0pt] at (14.1pt,-335.2pt) {log\sub{10} {\djv Σ}\sub{SFR} predicted [M\sub{\djv ⊙} Myr\sups{–1}pc\sups{–2}]};
\node[anchor=base, text=white, font=\tfont, inner sep=0pt] at (263.6pt,-229pt) {log\sub{10} {\djv Σ}\sub{SFR} observed [M\sub{\djv ⊙} Myr\sups{–1}pc\sups{–2}]};
\node[anchor=base, text=white, font=\tfont, inner sep=0pt] at (263.6pt,-459.4pt) {log\sub{10} {\djv Σ}\sub{SFR} observed [M\sub{\djv ⊙} Myr\sups{–1}pc\sups{–2}]};
\end{tikzpicture}
\end{document}
